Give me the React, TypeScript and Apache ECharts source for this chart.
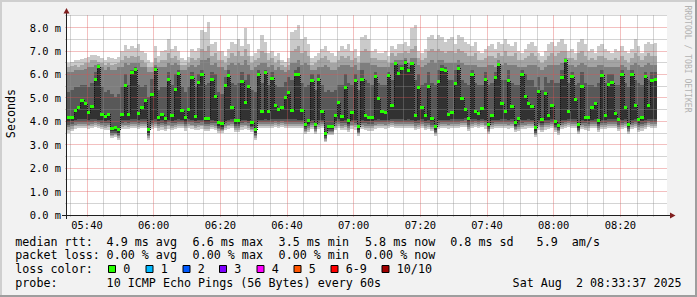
import React, { useEffect, useRef } from "react";
import * as echarts from "echarts";

// ---- axis / time layout (minutes after 05:00) ----
const START_MIN = 34; // 05:34
const SPAN_MIN = 180; // 3 hours
const STEP_MIN = 1; // one column per minute
const X_TICK_FIRST = 40;
const X_TICK_STEP = 20;
const X_MINOR_STEP = 5;
const X_TICK_LABELS = ["05:40", "06:00", "06:20", "06:40", "07:00", "07:20", "07:40", "08:00", "08:20"];
const Y_MAX = 8.54;
const Y_TICK_STEP = 1;
const Y_MINOR_STEP = 0.5;

// ---- data: median rtt (ms) and the 10 sorted pings per minute ----
const MEDIAN = [
  4.18, 4.18, 4.47, 4.57, 4.9, 4.74, 4.37, 4.64, 5.77, 6.34,
  4.3, 4.2, 4.3, 3.69, 3.73, 3.63, 4.3, 5.51, 4.3, 6.1,
  6.2, 4.32, 4.57, 4.9, 3.63, 5.16, 6.22, 4.16, 4.28, 4.12,
  5.77, 4.23, 5.34, 6.04, 4.45, 4.15, 4.52, 5.85, 4.2, 5.67,
  6.0, 4.14, 4.14, 5.77, 5.07, 3.93, 3.89, 5.51, 5.94, 4.6,
  4.02, 4.03, 5.7, 4.8, 5.47, 3.94, 3.63, 6.02, 4.44, 6.08,
  4.44, 5.84, 4.66, 4.49, 4.6, 5.0, 5.24, 4.47, 5.98, 5.98,
  4.47, 3.87, 4.02, 5.74, 3.87, 5.8, 4.42, 3.49, 3.8, 3.8,
  4.23, 4.8, 4.2, 5.45, 4.02, 4.37, 5.73, 3.76, 5.8, 4.23,
  4.16, 4.18, 5.9, 4.97, 4.44, 4.38, 5.97, 4.68, 6.45, 6.05,
  6.25, 6.5, 6.15, 6.45, 4.23, 5.44, 4.6, 4.23, 5.5, 4.1,
  3.76, 5.7, 6.22, 6.15, 4.3, 4.37, 5.63, 6.27, 4.99, 4.49,
  4.1, 6.0, 4.42, 4.32, 4.56, 5.77, 3.86, 4.23, 5.88, 6.44,
  4.74, 4.42, 5.74, 4.64, 3.94, 4.1, 6.0, 5.07, 4.74, 4.64,
  3.72, 5.29, 4.07, 5.2, 4.26, 4.66, 3.98, 3.83, 5.85, 6.6,
  4.42, 5.9, 4.93, 3.85, 5.48, 4.18, 4.16, 4.58, 4.77, 4.02,
  5.97, 4.27, 5.57, 5.64, 4.33, 4.09, 6.0, 4.57, 3.87, 6.02,
  4.68, 4.07, 4.17, 5.9, 4.68, 5.73, 5.8,
];
const P1 = [
  3.5, 3.58, 3.68, 3.7, 3.72, 3.7, 3.68, 3.72, 3.74, 3.7,
  3.66, 3.62, 3.64, 3.29, 3.32, 3.22, 3.66, 3.68, 3.66, 3.72,
  3.72, 3.66, 3.7, 3.72, 3.22, 3.66, 3.72, 3.6, 3.64, 3.58,
  3.68, 3.62, 3.66, 3.72, 3.7, 3.6, 3.7, 3.68, 3.62, 3.64,
  3.68, 3.58, 3.58, 3.66, 3.62, 3.52, 3.49, 3.62, 3.68, 3.7,
  3.55, 3.55, 3.64, 3.68, 3.62, 3.54, 3.22, 3.7, 3.7, 3.72,
  3.7, 3.72, 3.74, 3.72, 3.74, 3.72, 3.72, 3.72, 3.72, 3.7,
  3.7, 3.47, 3.55, 3.66, 3.47, 3.66, 3.7, 3.1, 3.4, 3.4,
  3.62, 3.7, 3.62, 3.64, 3.55, 3.68, 3.64, 3.36, 3.66, 3.62,
  3.6, 3.6, 3.68, 3.7, 3.7, 3.68, 3.7, 3.74, 3.72, 3.72,
  3.72, 3.7, 3.72, 3.7, 3.62, 3.66, 3.72, 3.62, 3.66, 3.58,
  3.36, 3.66, 3.7, 3.7, 3.68, 3.72, 3.72, 3.72, 3.74, 3.76,
  3.58, 3.72, 3.74, 3.7, 3.74, 3.68, 3.46, 3.66, 3.7, 3.7,
  3.72, 3.72, 3.68, 3.72, 3.54, 3.58, 3.66, 3.68, 3.72, 3.7,
  3.32, 3.64, 3.56, 3.64, 3.66, 3.72, 3.56, 3.43, 3.66, 3.7,
  3.74, 3.7, 3.72, 3.45, 3.66, 3.62, 3.6, 3.7, 3.72, 3.55,
  3.66, 3.66, 3.7, 3.7, 3.7, 3.58, 3.66, 3.72, 3.47, 3.66,
  3.72, 3.56, 3.6, 3.66, 3.74, 3.72, 3.72,
];
const P2 = [
  3.62, 3.68, 3.78, 3.8, 3.82, 3.8, 3.78, 3.82, 3.84, 3.8,
  3.76, 3.72, 3.74, 3.37, 3.4, 3.3, 3.76, 3.78, 3.76, 3.82,
  3.82, 3.76, 3.8, 3.82, 3.3, 3.76, 3.82, 3.7, 3.74, 3.68,
  3.78, 3.72, 3.76, 3.82, 3.8, 3.7, 3.8, 3.78, 3.72, 3.74,
  3.78, 3.68, 3.68, 3.76, 3.72, 3.6, 3.57, 3.72, 3.78, 3.8,
  3.64, 3.64, 3.74, 3.78, 3.72, 3.62, 3.3, 3.8, 3.8, 3.82,
  3.8, 3.82, 3.84, 3.82, 3.84, 3.82, 3.82, 3.82, 3.82, 3.8,
  3.8, 3.55, 3.64, 3.76, 3.55, 3.76, 3.8, 3.18, 3.48, 3.48,
  3.72, 3.8, 3.72, 3.74, 3.64, 3.78, 3.74, 3.44, 3.76, 3.72,
  3.7, 3.7, 3.78, 3.8, 3.8, 3.78, 3.8, 3.84, 3.82, 3.82,
  3.82, 3.8, 3.82, 3.8, 3.72, 3.76, 3.82, 3.72, 3.76, 3.67,
  3.44, 3.76, 3.8, 3.8, 3.78, 3.82, 3.82, 3.82, 3.84, 3.86,
  3.67, 3.82, 3.84, 3.8, 3.84, 3.78, 3.54, 3.76, 3.8, 3.8,
  3.82, 3.82, 3.78, 3.82, 3.62, 3.67, 3.76, 3.78, 3.82, 3.8,
  3.4, 3.74, 3.65, 3.74, 3.76, 3.82, 3.64, 3.51, 3.76, 3.8,
  3.84, 3.8, 3.82, 3.53, 3.76, 3.72, 3.7, 3.8, 3.82, 3.64,
  3.76, 3.76, 3.8, 3.8, 3.8, 3.67, 3.76, 3.82, 3.55, 3.76,
  3.82, 3.65, 3.7, 3.76, 3.84, 3.82, 3.82,
];
const P3 = [
  3.74, 3.78, 3.86, 3.88, 3.9, 3.88, 3.86, 3.9, 3.92, 3.88,
  3.84, 3.82, 3.84, 3.43, 3.46, 3.36, 3.84, 3.86, 3.84, 3.9,
  3.9, 3.84, 3.88, 3.9, 3.36, 3.84, 3.9, 3.8, 3.84, 3.78,
  3.86, 3.82, 3.84, 3.9, 3.88, 3.8, 3.88, 3.86, 3.82, 3.84,
  3.86, 3.78, 3.78, 3.84, 3.82, 3.66, 3.63, 3.82, 3.86, 3.88,
  3.72, 3.72, 3.84, 3.86, 3.82, 3.68, 3.36, 3.88, 3.88, 3.9,
  3.88, 3.9, 3.92, 3.9, 3.92, 3.9, 3.9, 3.9, 3.9, 3.88,
  3.88, 3.6, 3.72, 3.84, 3.6, 3.84, 3.88, 3.24, 3.54, 3.54,
  3.82, 3.88, 3.82, 3.84, 3.72, 3.86, 3.84, 3.5, 3.84, 3.82,
  3.8, 3.8, 3.86, 3.88, 3.88, 3.86, 3.88, 3.92, 3.9, 3.9,
  3.9, 3.88, 3.9, 3.88, 3.82, 3.84, 3.9, 3.82, 3.84, 3.76,
  3.5, 3.84, 3.88, 3.88, 3.86, 3.9, 3.9, 3.9, 3.92, 3.94,
  3.76, 3.9, 3.92, 3.88, 3.92, 3.86, 3.6, 3.84, 3.88, 3.88,
  3.9, 3.9, 3.86, 3.9, 3.68, 3.76, 3.84, 3.86, 3.9, 3.88,
  3.46, 3.84, 3.74, 3.84, 3.84, 3.9, 3.7, 3.57, 3.84, 3.88,
  3.92, 3.88, 3.9, 3.59, 3.84, 3.82, 3.8, 3.88, 3.9, 3.72,
  3.84, 3.84, 3.88, 3.88, 3.88, 3.76, 3.84, 3.9, 3.6, 3.84,
  3.9, 3.74, 3.8, 3.84, 3.92, 3.9, 3.9,
];
const P4 = [
  3.85, 3.88, 3.95, 3.97, 3.98, 3.97, 3.95, 3.98, 4.0, 3.96,
  3.94, 3.92, 3.94, 3.49, 3.52, 3.42, 3.94, 3.96, 3.94, 3.98,
  3.98, 3.94, 3.97, 3.98, 3.42, 3.94, 3.98, 3.9, 3.94, 3.88,
  3.96, 3.92, 3.94, 3.98, 3.96, 3.9, 3.97, 3.96, 3.92, 3.94,
  3.96, 3.88, 3.88, 3.94, 3.92, 3.72, 3.69, 3.92, 3.96, 3.97,
  3.8, 3.8, 3.94, 3.96, 3.92, 3.74, 3.42, 3.96, 3.96, 3.98,
  3.96, 3.98, 4.0, 3.98, 4.0, 3.98, 3.98, 3.98, 3.98, 3.96,
  3.96, 3.67, 3.8, 3.94, 3.67, 3.94, 3.96, 3.3, 3.6, 3.6,
  3.92, 3.97, 3.92, 3.94, 3.8, 3.95, 3.94, 3.56, 3.94, 3.92,
  3.9, 3.9, 3.96, 3.97, 3.96, 3.95, 3.96, 4.0, 3.98, 3.98,
  3.98, 3.96, 3.98, 3.96, 3.92, 3.94, 3.98, 3.92, 3.94, 3.86,
  3.56, 3.94, 3.96, 3.96, 3.95, 3.98, 3.98, 3.98, 4.0, 4.04,
  3.86, 3.98, 4.0, 3.96, 4.0, 3.96, 3.66, 3.94, 3.96, 3.96,
  3.98, 3.98, 3.96, 3.98, 3.74, 3.86, 3.94, 3.96, 3.98, 3.97,
  3.52, 3.94, 3.84, 3.94, 3.94, 3.98, 3.77, 3.63, 3.94, 3.96,
  4.0, 3.96, 3.98, 3.65, 3.94, 3.92, 3.9, 3.97, 3.98, 3.8,
  3.94, 3.94, 3.96, 3.96, 3.96, 3.86, 3.94, 3.98, 3.67, 3.94,
  3.98, 3.84, 3.9, 3.94, 4.0, 3.98, 3.98,
];
const P5 = [
  3.98, 4.0, 4.05, 4.08, 4.1, 4.08, 4.05, 4.1, 4.1, 4.05,
  4.05, 4.02, 4.05, 3.57, 3.6, 3.5, 4.05, 4.06, 4.05, 4.08,
  4.08, 4.05, 4.08, 4.1, 3.5, 4.04, 4.08, 4.0, 4.04, 3.98,
  4.06, 4.02, 4.04, 4.08, 4.06, 3.99, 4.08, 4.06, 4.02, 4.04,
  4.06, 3.98, 3.98, 4.04, 4.02, 3.8, 3.77, 4.02, 4.06, 4.08,
  3.9, 3.9, 4.04, 4.06, 4.02, 3.82, 3.5, 4.06, 4.06, 4.08,
  4.06, 4.08, 4.12, 4.08, 4.12, 4.08, 4.08, 4.08, 4.08, 4.06,
  4.06, 3.75, 3.9, 4.04, 3.75, 4.04, 4.06, 3.38, 3.68, 3.68,
  4.02, 4.08, 4.02, 4.04, 3.9, 4.05, 4.04, 3.64, 4.04, 4.02,
  4.0, 4.0, 4.06, 4.08, 4.06, 4.05, 4.06, 4.12, 4.08, 4.08,
  4.08, 4.06, 4.08, 4.06, 4.02, 4.04, 4.08, 4.02, 4.04, 3.96,
  3.64, 4.04, 4.06, 4.06, 4.05, 4.1, 4.08, 4.08, 4.12, 4.15,
  3.96, 4.08, 4.1, 4.06, 4.12, 4.06, 3.74, 4.04, 4.06, 4.06,
  4.08, 4.08, 4.06, 4.08, 3.82, 3.96, 4.04, 4.06, 4.08, 4.06,
  3.6, 4.04, 3.94, 4.04, 4.04, 4.1, 3.85, 3.71, 4.04, 4.06,
  4.12, 4.08, 4.1, 3.73, 4.04, 4.02, 4.0, 4.06, 4.1, 3.9,
  4.04, 4.04, 4.08, 4.08, 4.08, 3.96, 4.04, 4.1, 3.75, 4.04,
  4.1, 3.94, 4.0, 4.04, 4.12, 4.08, 4.08,
];
const P7 = [
  5.25, 5.35, 5.45, 5.45, 5.55, 5.55, 5.45, 5.65, 6.1, 6.4,
  5.45, 5.25, 5.35, 5.15, 5.05, 5.15, 5.45, 6.0, 5.55, 6.2,
  6.3, 5.55, 5.45, 5.55, 5.05, 5.8, 6.3, 5.35, 5.45, 5.45,
  6.1, 5.55, 6.0, 6.2, 5.45, 5.25, 5.45, 6.1, 5.45, 6.0,
  6.2, 5.55, 5.65, 6.1, 6.0, 5.25, 5.15, 5.9, 6.2, 5.65,
  5.55, 5.65, 6.1, 5.75, 6.0, 5.35, 5.25, 6.2, 5.65, 6.2,
  5.55, 6.1, 5.55, 5.45, 5.45, 5.7, 5.9, 5.75, 6.2, 6.3,
  5.65, 5.45, 5.55, 6.0, 5.35, 6.0, 5.55, 5.25, 5.35, 5.25,
  5.35, 5.55, 5.55, 6.0, 5.65, 5.55, 6.0, 5.35, 6.2, 5.75,
  5.65, 5.55, 6.1, 5.65, 5.55, 5.55, 6.1, 5.75, 6.5, 6.4,
  6.4, 6.6, 6.3, 6.55, 5.75, 6.0, 5.55, 5.65, 6.1, 5.65,
  5.55, 6.2, 6.4, 6.3, 5.75, 5.75, 6.2, 6.4, 5.75, 5.65,
  5.55, 6.2, 5.65, 5.55, 5.55, 6.1, 5.55, 5.65, 6.1, 6.5,
  5.75, 5.75, 6.2, 5.65, 5.55, 5.55, 6.2, 6.0, 5.75, 5.75,
  5.45, 5.9, 5.35, 5.9, 5.65, 5.75, 5.65, 5.65, 6.2, 6.65,
  5.65, 6.1, 5.55, 5.65, 6.1, 5.65, 5.55, 5.55, 5.45, 5.65,
  6.2, 5.65, 6.0, 6.0, 5.55, 5.55, 6.2, 5.65, 5.45, 6.2,
  5.75, 5.65, 5.55, 6.1, 5.75, 6.1, 6.1,
];
const P8 = [
  6.1, 6.1, 6.2, 6.2, 6.2, 6.25, 6.3, 6.3, 6.4, 6.45,
  6.3, 6.2, 6.3, 6.2, 6.2, 6.3, 6.3, 6.5, 6.4, 6.5,
  6.5, 6.5, 6.3, 6.3, 6.1, 6.1, 6.4, 6.3, 6.3, 6.3,
  6.5, 6.4, 6.5, 6.4, 6.2, 6.2, 6.3, 6.4, 6.3, 6.4,
  6.6, 6.6, 6.7, 6.4, 6.5, 6.3, 6.3, 6.2, 6.4, 6.5,
  6.4, 6.5, 6.4, 6.6, 6.4, 6.2, 6.3, 6.4, 6.5, 6.5,
  6.3, 6.4, 6.2, 6.3, 6.2, 6.1, 6.2, 6.5, 6.5, 6.6,
  6.4, 6.5, 6.4, 6.2, 6.2, 6.3, 6.3, 6.4, 6.3, 6.2,
  6.2, 6.3, 6.4, 6.4, 6.4, 6.3, 6.4, 6.2, 6.5, 6.5,
  6.5, 6.4, 6.4, 6.3, 6.3, 6.3, 6.3, 6.5, 6.6, 6.6,
  6.6, 6.7, 6.5, 6.7, 6.7, 6.4, 6.3, 6.4, 6.5, 6.6,
  6.5, 6.6, 6.6, 6.5, 6.5, 6.5, 6.5, 6.6, 6.5, 6.4,
  6.4, 6.4, 6.4, 6.3, 6.3, 6.3, 6.4, 6.4, 6.3, 6.6,
  6.4, 6.5, 6.4, 6.4, 6.4, 6.3, 6.3, 6.3, 6.4, 6.4,
  6.4, 6.3, 6.2, 6.3, 6.4, 6.4, 6.4, 6.4, 6.5, 6.7,
  6.4, 6.4, 6.3, 6.4, 6.5, 6.4, 6.3, 6.3, 6.3, 6.4,
  6.4, 6.3, 6.3, 6.3, 6.3, 6.3, 6.4, 6.3, 6.2, 6.4,
  6.5, 6.4, 6.3, 6.4, 6.5, 6.4, 6.4,
];
const P9 = [
  6.3, 6.35, 6.4, 6.3, 6.4, 6.5, 6.5, 6.6, 6.6, 6.55,
  6.5, 6.4, 6.5, 6.4, 6.45, 6.5, 6.6, 6.8, 6.7, 6.8,
  6.75, 6.8, 6.6, 6.5, 6.3, 6.3, 6.7, 6.5, 6.6, 6.6,
  6.9, 6.7, 6.8, 6.6, 6.4, 6.4, 6.5, 6.7, 6.6, 6.7,
  7.1, 7.0, 7.2, 6.8, 6.9, 6.6, 6.6, 6.5, 6.7, 6.9,
  6.8, 7.0, 6.8, 7.1, 6.8, 6.5, 6.6, 6.7, 7.0, 6.9,
  6.6, 6.7, 6.5, 6.6, 6.4, 6.3, 6.4, 7.0, 7.1, 7.2,
  6.9, 7.0, 6.8, 6.4, 6.5, 6.6, 6.7, 6.8, 6.6, 6.5,
  6.5, 6.6, 6.8, 6.7, 6.8, 6.6, 6.7, 6.5, 7.0, 7.1,
  7.0, 6.7, 6.7, 6.6, 6.6, 6.6, 6.5, 6.9, 6.8, 6.9,
  6.9, 7.0, 6.9, 7.1, 7.2, 6.7, 6.6, 6.7, 7.0, 7.1,
  7.0, 7.1, 7.0, 6.9, 7.0, 7.0, 6.9, 7.1, 7.0, 6.9,
  6.8, 6.8, 6.9, 6.6, 6.6, 6.7, 6.8, 6.8, 6.7, 6.9,
  6.8, 7.0, 6.8, 6.8, 6.9, 6.6, 6.6, 6.7, 6.8, 6.9,
  6.8, 6.6, 6.5, 6.6, 6.8, 6.9, 6.8, 6.9, 7.0, 7.0,
  6.7, 6.7, 6.6, 6.9, 7.0, 6.8, 6.6, 6.7, 6.6, 6.8,
  6.8, 6.7, 6.6, 6.6, 6.7, 6.6, 6.8, 6.6, 6.5, 6.7,
  6.9, 6.8, 6.6, 6.8, 6.9, 6.8, 6.8,
];
const P10 = [
  6.5, 6.55, 6.6, 6.6, 6.65, 6.7, 6.75, 6.85, 6.85, 6.8,
  6.7, 6.6, 6.75, 6.7, 6.65, 6.75, 7.0, 7.25, 7.1, 7.2,
  7.15, 7.3, 7.0, 6.9, 6.6, 6.5, 7.2, 6.8, 7.0, 7.05,
  7.5, 7.1, 7.2, 7.0, 6.7, 6.6, 6.75, 7.1, 7.0, 7.15,
  7.9, 7.8, 8.25, 7.3, 7.4, 7.0, 7.0, 6.8, 7.1, 7.4,
  7.3, 7.5, 7.2, 8.0, 7.3, 6.8, 6.9, 7.1, 7.7, 7.4,
  6.9, 7.0, 6.8, 6.9, 6.6, 6.55, 6.7, 7.8, 7.9, 8.1,
  7.5, 7.6, 7.3, 6.7, 6.8, 6.9, 7.1, 7.2, 7.0, 6.9,
  6.8, 7.0, 7.2, 7.1, 7.3, 7.0, 7.1, 6.8, 7.6, 7.7,
  7.5, 7.0, 7.1, 6.9, 6.9, 7.0, 6.8, 7.2, 7.1, 7.3,
  7.3, 7.4, 7.2, 8.0, 8.1, 7.0, 6.9, 7.1, 7.6, 7.7,
  7.5, 7.7, 7.6, 7.4, 7.5, 7.6, 7.3, 7.7, 7.6, 7.4,
  7.3, 7.2, 7.4, 7.0, 6.9, 7.1, 7.2, 7.3, 7.1, 7.4,
  7.3, 7.5, 7.3, 7.2, 7.4, 7.0, 6.9, 7.1, 7.3, 7.4,
  7.2, 6.9, 6.8, 7.0, 7.3, 7.4, 7.2, 7.4, 7.5, 7.3,
  7.0, 7.1, 6.9, 7.4, 7.5, 7.3, 7.0, 7.1, 6.9, 7.2,
  7.3, 7.1, 7.0, 6.9, 7.1, 7.0, 7.2, 7.0, 6.9, 7.1,
  7.5, 7.2, 6.9, 7.3, 7.4, 7.3, 7.35,
];

// ---- legend texts ----
const RTT_STATS = ["4.9 ms avg", "6.6 ms max", "3.5 ms min", "5.8 ms now", "0.8 ms sd"];
const AM_VALUE = "5.9";
const AM_UNIT = "am/s";
const LOSS_STATS = ["0.00 % avg", "0.00 % max", "0.00 % min", "0.00 % now"];
const LOSS_LABELS = ["0", "1", "2", "3", "4", "5", "6-9", "10/10"];
const LOSS_COLORS = ["#26ff00", "#00b8ff", "#0059ff", "#7e00ff", "#ff00ff", "#ff5500", "#ff0000", "#a10000"];
const PROBE_TEXT = "10 ICMP Echo Pings (56 Bytes) every 60s";
const DATE_PARTS = ["Sat Aug", "2 08:33:37 2025"];

// ---- styles ----
const SMOKE_COLORS = ["#cacaca", "#a4a4a4", "#7e7e7e", "#585858", "#323232"];
const MEDIAN_COLOR = LOSS_COLORS[0];
const MINOR_GRID = "rgba(143,143,143,0.38)";
const MAJOR_GRID = "rgba(222,79,79,0.36)";
const MONO = '"DejaVu Sans Mono", "Liberation Mono", monospace';
const LEG_FS = 11.7;
const AXIS_FS = 10.4;

function buildOption() {
  const smokeData = MEDIAN.map((m, i) => [
    START_MIN + i * STEP_MIN, P1[i], P2[i], P3[i], P4[i], P5[i], m, P7[i], P8[i], P9[i], P10[i],
  ]);
  const medianData = MEDIAN.map((m, i) => [START_MIN + i * STEP_MIN, m, i > 0 ? MEDIAN[i - 1] : m]);

  const txt = (text: string, x: number, y: number, extra: any = {}) => ({
    type: "text",
    x,
    y,
    z: 100,
    silent: true,
    ...extra,
    style: {
      text,
      fill: "#000",
      fontFamily: MONO,
      fontSize: LEG_FS,
      align: "left",
      verticalAlign: "middle",
      ...(extra.style || {}),
    },
  });

  const LINE_Y = [241.7, 255.2, 269.2, 282.9];
  const SEG_X = [106.6, 192.6, 278.6, 365.0, 450.3];
  const BOX_X = [108, 145.5, 182.5, 219, 256.5, 293.5, 330.5, 381.5];

  const elements: any[] = [
    { type: "rect", z: 100, shape: { x: 0, y: 0, width: 697, height: 2 }, style: { fill: "#cfcfcf" } },
    { type: "rect", z: 100, shape: { x: 0, y: 0, width: 2, height: 297 }, style: { fill: "#cfcfcf" } },
    { type: "rect", z: 100, shape: { x: 0, y: 295, width: 697, height: 2 }, style: { fill: "#9e9e9e" } },
    { type: "rect", z: 100, shape: { x: 695, y: 0, width: 2, height: 297 }, style: { fill: "#9e9e9e" } },
    { type: "line", z: 100, shape: { x1: 62, y1: 215.5, x2: 671, y2: 215.5 }, style: { stroke: "#1f1f1f", lineWidth: 1 } },
    { type: "line", z: 100, shape: { x1: 66.5, y1: 219, x2: 66.5, y2: 11 }, style: { stroke: "#1f1f1f", lineWidth: 1 } },
    { type: "polygon", z: 101, shape: { points: [[670, 212.5], [675.5, 215.5], [670, 218.5]] }, style: { fill: "#801f1f" } },
    { type: "polygon", z: 101, shape: { points: [[63.5, 13.5], [66.5, 8], [69.5, 13.5]] }, style: { fill: "#801f1f" } },
    txt("Seconds", 10.5, 113.5, { rotation: Math.PI / 2, style: { align: "center" } }),
    txt("RRDTOOL / TOBI OETIKER", 688, 59, {
      rotation: -Math.PI / 2,
      style: { align: "center", fontSize: 8.1, fill: "#b2b2b2" },
    }),
    txt("median rtt:", 15.3, LINE_Y[0]),
    ...RTT_STATS.map((s, i) => txt(s, SEG_X[i], LINE_Y[0])),
    txt(AM_VALUE, 536.6, LINE_Y[0]),
    txt(AM_UNIT, 571.8, LINE_Y[0]),
    txt("packet loss:", 15.3, LINE_Y[1]),
    ...LOSS_STATS.map((s, i) => txt(s, SEG_X[i], LINE_Y[1])),
    txt("loss color:", 15.3, LINE_Y[2]),
    ...LOSS_LABELS.map((s, i) => txt(s, BOX_X[i] + 15.3, LINE_Y[2])),
    ...LOSS_COLORS.map((c, i) => ({
      type: "rect",
      z: 100,
      shape: { x: BOX_X[i] + 0.5, y: 265.5, width: 7, height: 7 },
      style: { fill: c, stroke: "#000", lineWidth: 1 },
    })),
    txt("probe:", 15.3, LINE_Y[3]),
    txt(PROBE_TEXT, 106.6, LINE_Y[3]),
    txt(DATE_PARTS[0], 512.6, LINE_Y[3]),
    txt(DATE_PARTS[1], 576.0, LINE_Y[3]),
  ];

  return {
    animation: false,
    backgroundColor: "#f2f2f2",
    grid: {
      left: 67,
      top: 15,
      width: 600,
      height: 200,
      show: true,
      backgroundColor: "#ffffff",
      borderWidth: 0,
      containLabel: false,
      outerBoundsMode: "none",
    },
    xAxis: {
      type: "value",
      min: START_MIN,
      max: START_MIN + SPAN_MIN,
      minInterval: X_TICK_STEP,
      maxInterval: X_TICK_STEP,
      splitNumber: 9,
      axisLine: { show: false },
      axisTick: { show: false },
      splitLine: { show: false },
      axisLabel: {
        showMinLabel: false,
        showMaxLabel: false,
        margin: 5,
        color: "#000",
        fontFamily: MONO,
        fontSize: AXIS_FS,
        formatter: (v: number) => {
          const k = (v - X_TICK_FIRST) / X_TICK_STEP;
          if (Math.abs(k - Math.round(k)) > 1e-6) return "";
          return X_TICK_LABELS[Math.round(k)] ?? "";
        },
      },
    },
    yAxis: {
      type: "value",
      min: 0,
      max: Y_MAX,
      interval: Y_TICK_STEP,
      axisLine: { show: false },
      axisTick: { show: false },
      splitLine: { show: false },
      axisLabel: {
        showMaxLabel: false,
        margin: 6,
        color: "#000",
        fontFamily: MONO,
        fontSize: AXIS_FS,
        formatter: (v: number) => (Math.abs(v - Math.round(v)) > 1e-6 ? "" : v.toFixed(1) + " m"),
      },
    },
    series: [
      {
        type: "custom",
        name: "smoke",
        z: 1,
        silent: true,
        data: smokeData,
        renderItem: (params: any, api: any) => {
          const x = api.value(0);
          const v: number[] = [];
          for (let k = 1; k <= 10; k++) v.push(api.value(k));
          const x0 = Math.round(api.coord([x, 0])[0]);
          const x1 = Math.round(api.coord([x + STEP_MIN, 0])[0]);
          const children: any[] = [];
          for (let b = 0; b < 5; b++) {
            const lo = v[b];
            const hi = Math.max(v[9 - b], lo);
            const yt = Math.round(api.coord([x, hi])[1]);
            const yb = Math.round(api.coord([x, lo])[1]);
            children.push({
              type: "rect",
              shape: { x: x0, y: yt, width: x1 - x0, height: Math.max(yb - yt, 1) },
              style: { fill: SMOKE_COLORS[b] },
            });
          }
          return { type: "group", children };
        },
      },
      {
        type: "custom",
        name: "grid",
        z: 2,
        silent: true,
        data: [[START_MIN, 0]],
        renderItem: (params: any, api: any) => {
          const cs = params.coordSys;
          const top = cs.y;
          const bottom = cs.y + cs.height;
          const left = cs.x;
          const right = cs.x + cs.width;
          const children: any[] = [];
          const first = Math.ceil(START_MIN / X_MINOR_STEP) * X_MINOR_STEP;
          for (let t = first; t < START_MIN + SPAN_MIN; t += X_MINOR_STEP) {
            if (t <= START_MIN) continue;
            const major = (t - X_TICK_FIRST) % X_TICK_STEP === 0;
            const px = Math.floor(api.coord([t, 0])[0]) + 0.5;
            const stroke = major ? MAJOR_GRID : MINOR_GRID;
            children.push({ type: "rect", shape: { x: px - 0.5, y: top, width: 1, height: bottom - top + 2 }, style: { fill: stroke } });
          }
          for (let k = 1; k * Y_MINOR_STEP < Y_MAX; k++) {
            const val = k * Y_MINOR_STEP;
            const major = Math.abs(val / Y_TICK_STEP - Math.round(val / Y_TICK_STEP)) < 1e-6;
            const py = Math.floor(api.coord([START_MIN, val])[1]);
            const stroke = major ? MAJOR_GRID : MINOR_GRID;
            children.push({ type: "rect", shape: { x: left - 2, y: py, width: right - left + 2, height: 1 }, style: { fill: stroke } });
          }
          return { type: "group", children };
        },
      },
      {
        type: "custom",
        name: "median",
        z: 3,
        silent: true,
        data: medianData,
        renderItem: (params: any, api: any) => {
          const x = api.value(0);
          const m = api.value(1);
          const prev = api.value(2);
          const x0 = Math.round(api.coord([x, 0])[0]);
          const x1 = Math.round(api.coord([x + STEP_MIN, 0])[0]);
          const ym = api.coord([x, m])[1];
          const yp = api.coord([x, prev])[1];
          const children: any[] = [];
          if (Math.abs(ym - yp) > 2) {
            children.push({
              type: "line",
              shape: { x1: x0 + 0.5, y1: Math.round(yp), x2: x0 + 0.5, y2: Math.round(ym) },
              style: { stroke: "#141414", lineWidth: 1, lineDash: [1, 1] },
            });
          }
          children.push({
            type: "rect",
            shape: { x: x0, y: Math.round(ym - 1.5), width: x1 - x0, height: 3 },
            style: { fill: MEDIAN_COLOR },
          });
          return { type: "group", children };
        },
      },
    ],
    graphic: { elements },
  };
}

export default function App() {
  const ref = useRef<HTMLDivElement>(null);
  useEffect(() => {
    if (!ref.current) return;
    const chart = echarts.init(ref.current, null, { renderer: "svg" });
    chart.setOption(buildOption() as any);
    return () => chart.dispose();
  }, []);
  return <div ref={ref} style={{ position: "fixed", left: 0, top: 0, width: 697, height: 297 }} />;
}
